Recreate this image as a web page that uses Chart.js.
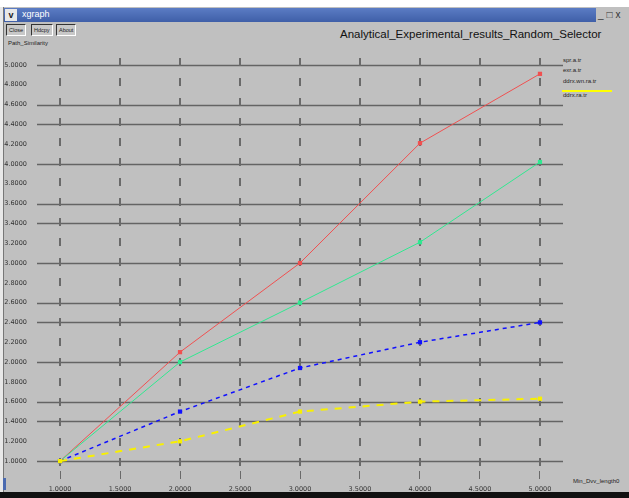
<!DOCTYPE html>
<html>
<head>
<meta charset="utf-8">
<script src="https://cdn.jsdelivr.net/npm/chart.js@4.4.0/dist/chart.umd.min.js"></script>
<style>
  body { margin: 0; background: #fff; font-family: "Liberation Sans", "DejaVu Sans", sans-serif; }
  #win { position: absolute; left: 0; top: 0; width: 629px; height: 498px; background: #c0c0c0; overflow: hidden; }
  #topstrip { position: absolute; left: 0; top: 0; width: 629px; height: 7px; background: #fff; }
  #leftedge { position: absolute; left: 0; top: 7px; width: 3px; height: 491px; background: #e8e8e8; border-right: 1px solid #777; }
  #titlebar { position: absolute; left: 4px; top: 8px; width: 592px; height: 14px; background: linear-gradient(#5b7cc4, #3f5fa8); }
  #titlebar span { position: absolute; left: 18px; top: 1px; color: #fff; font-size: 9px; }
  #menuicon { position: absolute; left: 5px; top: 9px; width: 12px; height: 12px; background: #e8e8e8; font-size: 9px; font-weight: bold; text-align: center; line-height: 12px; color: #222; }
  #wbtns { position: absolute; left: 598px; top: 9px; font-size: 10px; color: #333; letter-spacing: 3px; }
  .btn { position: absolute; top: 24px; height: 10px; border: 1px solid #333; border-right-color: #fff; border-bottom-color: #fff; font-size: 5.5px; line-height: 10px; padding: 0 2px; color: #222; background: #c8c8c8; }
  .small { position: absolute; font-size: 6px; color: #222; white-space: nowrap; }
  #maintitle { position: absolute; left: 340px; top: 28px; font-size: 11.5px; color: #111; white-space: nowrap; }
  #bottombar { position: absolute; left: 0; top: 492px; width: 629px; height: 6px; background: #111; }
  #bottomblue { position: absolute; left: 3px; top: 478px; width: 3px; height: 12px; background: #4a6ab0; }
  #cv { position: absolute; left: 0; top: 0; }
</style>
</head>
<body>
<div id="win">
  <div id="topstrip"></div>
  <div id="leftedge"></div>
  <div id="titlebar"><span>xgraph</span></div>
  <div id="menuicon">v</div>
  <div id="wbtns">_□x</div>
  <div class="btn" style="left:6px">Close</div>
  <div class="btn" style="left:31px">Hdcpy</div>
  <div class="btn" style="left:56px">About</div>
  <div class="small" style="left:8px;top:40px">Path_Similarity</div>
  <div id="maintitle">Analytical_Experimental_results_Random_Selector</div>
  <div class="small" style="left:563px;top:57px">spr.a.tr</div>
  <div class="small" style="left:563px;top:67px">exr.a.tr</div>
  <div class="small" style="left:563px;top:78px">ddrx.wn.ra.tr</div>
  <div style="position:absolute;left:562px;top:90px;width:50px;height:2px;background:#ffff00"></div>
  <div class="small" style="left:563px;top:92px">ddrx.ra.tr</div>
  <div class="small" style="left:573px;top:478px">Min_Dvv_length0</div>
  <div id="bottombar"></div>
  <div id="bottomblue"></div>
  <canvas id="cv" width="629" height="498"></canvas>
</div>
<script>
// valori
var xValues = [1, 2, 3, 4, 5];
var redSeries = [1.0, 2.1, 3.0, 4.21, 4.91];
var greenSeries = [1.0, 2.0, 2.6, 3.21, 4.02];
var blueSeries = [1.0, 1.5, 1.94, 2.2, 2.4];
var yellowSeries = [1.0, 1.2, 1.5, 1.6, 1.63];
var seriesNames = ["spr.a.tr", "exr.a.tr", "ddrx.wn.ra.tr", "ddrx.ra.tr"];
var xTicks = [1.0, 1.5, 2.0, 2.5, 3.0, 3.5, 4.0, 4.5, 5.0];
var yTicks = [1.0, 1.2, 1.4, 1.6, 1.8, 2.0, 2.2, 2.4, 2.6, 2.8, 3.0, 3.2, 3.4, 3.6, 3.8, 4.0, 4.2, 4.4, 4.6, 4.8, 5.0];
// linee orizzontali effettivamente disegnate da xgraph
var yGridDrawn = [1.0, 1.4, 1.6, 2.0, 2.4, 2.6, 3.0, 3.4, 3.6, 4.0, 4.4, 4.6, 5.0];

function toPoints(series){
    var pts = [];
    for(var i = 0; i < xValues.length; i++){
        pts.push({x: xValues[i], y: series[i]})
    }
    return pts
}

function makeSet(label, series, color, dash, width, order){
    return {
        label: label,
        data: toPoints(series),
        borderColor: color,
        backgroundColor: color,
        borderWidth: width,
        borderDash: dash,
        pointStyle: 'rect',
        pointRadius: 3,
        pointBorderWidth: 0,
        tension: 0,
        order: order
    }
}

var ctx = document.getElementById("cv");

var chart = new Chart(ctx, {
    type: 'line',
    data: {
        datasets: [
            makeSet(seriesNames[0], redSeries, '#f05050', [], 1, 3),
            makeSet(seriesNames[1], greenSeries, '#30e890', [], 1, 2),
            makeSet(seriesNames[2], blueSeries, '#1010ff', [4, 4], 1.5, 1),
            makeSet(seriesNames[3], yellowSeries, '#f8f000', [7, 7], 2, 0)
        ]
    },
    options: {
        responsive: false,
        animation: false,
        layout: { padding: { top: 58, right: 66, left: 0, bottom: 0 } },
        plugins: { legend: { display: false }, tooltip: { enabled: false } },
        scales: {
            x: {
                type: 'linear',
                min: 0.808,
                max: 5.192,
                afterBuildTicks: function(axis){ axis.ticks = xTicks.map(v => ({value: v})) },
                afterFit: function(axis){ axis.height = 27 },
                border: { display: false },
                grid: {
                    drawOnChartArea: false,
                    tickLength: 8,
                    tickColor: '#6a6a6a',
                    tickWidth: 1
                },
                ticks: {
                    color: '#333',
                    font: { size: 6.5, family: 'DejaVu Sans' },
                    padding: 6,
                    maxRotation: 0,
                    callback: v => v.toFixed(4)
                }
            },
            y: {
                type: 'linear',
                min: 0.9,
                max: 5.07,
                afterBuildTicks: function(axis){ axis.ticks = yTicks.map(v => ({value: v})) },
                afterFit: function(axis){ axis.width = 37 },
                border: { display: false },
                grid: { display: false },
                ticks: {
                    color: '#333',
                    font: { size: 6.5, family: 'DejaVu Sans' },
                    padding: 2,
                    callback: v => v.toFixed(4)
                }
            }
        }
    },
    plugins: [{
        // griglia come in xgraph: verticali tratteggiate, solo alcune orizzontali
        id: 'xgraphGrid',
        beforeDatasetsDraw: function(c){
            var a = c.chartArea, xs = c.scales.x, ys = c.scales.y, g = c.ctx;
            g.save();
            g.strokeStyle = '#646464';
            g.lineWidth = 1.5;
            yGridDrawn.forEach(v => {
                var py = Math.round(ys.getPixelForValue(v)) + 0.5;
                g.beginPath();
                g.moveTo(a.left, py);
                g.lineTo(a.right, py);
                g.stroke();
            });
            g.strokeStyle = '#6a6a6a';
            g.lineWidth = 2;
            g.setLineDash([8, 12]);
            xTicks.forEach(v => {
                var px = Math.round(xs.getPixelForValue(v));
                g.beginPath();
                g.moveTo(px, a.top);
                g.lineTo(px, a.bottom);
                g.stroke();
            });
            g.restore();
        }
    }]
});
</script>
</body>
</html>
